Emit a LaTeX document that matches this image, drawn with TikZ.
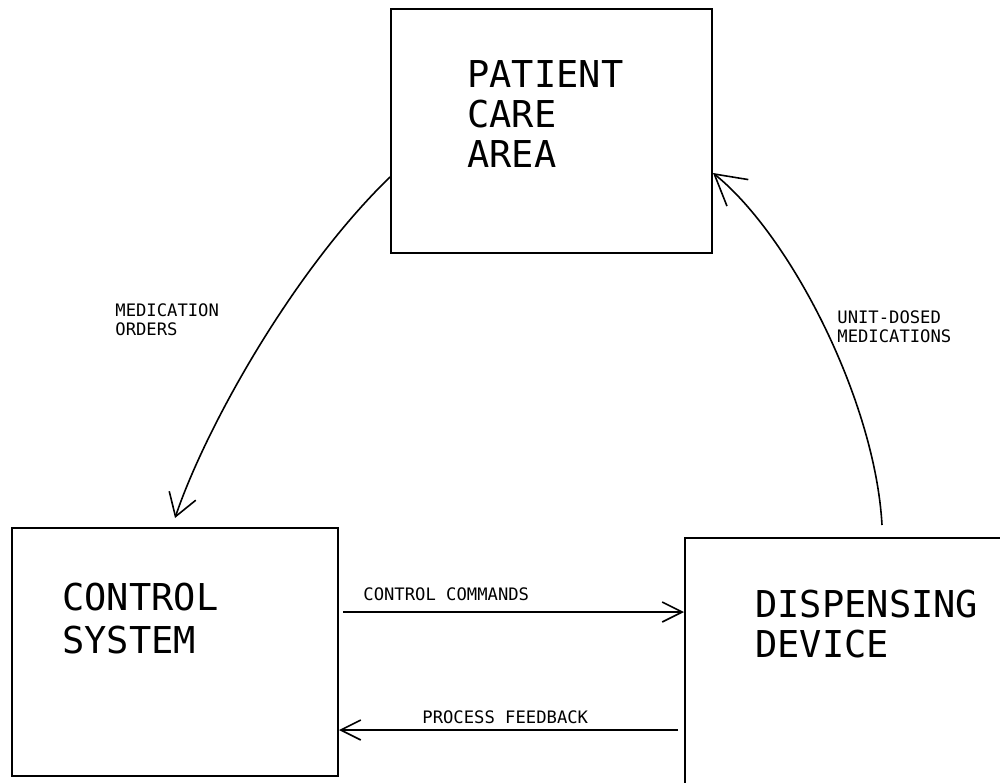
\documentclass[tikz,border=0pt]{standalone}
\usepackage{fontspec}
\newfontfamily\plotfont{DejaVu Sans Mono}
\usetikzlibrary{arrows.meta}
\begin{document}
\begin{tikzpicture}[x=0.5pt,y=-0.5pt,
  block/.style={draw,line width=1pt,rectangle,inner sep=0pt},
  bigtext/.style={anchor=north west,inner sep=0pt,align=left,
    font=\plotfont\fontsize{18.5pt}{20pt}\selectfont},
  smalltext/.style={anchor=north west,inner sep=0pt,align=left,
    font=\plotfont\fontsize{8.6pt}{9.8pt}\selectfont},
  flow/.style={line width=0.8pt},
  barb/.style={-{Straight Barb[length=10pt,width=10pt,line width=0.8pt]}}]
\useasboundingbox (0,0) rectangle (1000,782);
\clip (0,0) rectangle (1000,782);

% the three blocks
\node[block,minimum width=160.5pt,minimum height=122pt] (pat) at (551.5,131) {};
\node[block,minimum width=163pt,minimum height=124pt] (ctl) at (175,652) {};
\node[block,minimum width=162.5pt,minimum height=131pt] (disp) at (847.5,669) {};

% block captions
\node[bigtext] (patlbl) at (467,60) {PATIENT\\CARE\\AREA};
\node[bigtext,font=\plotfont\fontsize{18.5pt}{21.5pt}\selectfont] (ctllbl) at (62,583) {CONTROL\\SYSTEM};
\node[bigtext] (displbl) at (755,590) {DISPENSING\\DEVICE};

% flow labels
\node[smalltext] (molbl) at (115,303) {MEDICATION\\ORDERS};
\node[smalltext] (udlbl) at (837,310) {UNIT-DOSED\\MEDICATIONS};
\node[smalltext] (cclbl) at (363,587) {CONTROL COMMANDS};
\node[smalltext] (pflbl) at (422,710) {PROCESS FEEDBACK};

% heights of the straight connectors and ends of the curved ones
\coordinate (ccy) at (0,612);
\coordinate (pfy) at (0,730);
\coordinate (moy) at (0,177);
\coordinate (udy) at (0,173);
\coordinate (udstart) at (882,525);

% horizontal flows between control system and dispensing device
\draw[flow,barb,shorten <=2pt] (ctl.east |- ccy) -- (disp.west |- ccy);
\draw[flow,barb,shorten <=3pt] (disp.west |- pfy) -- (ctl.east |- pfy);

% medication orders: patient care area to control system
\draw[flow,-{Straight Barb[length=11pt,width=14pt,line width=0.8pt]}]
  (pat.west |- moy) .. controls (292,272) and (205,429) .. ([yshift=4.5pt]ctl.north);

% unit-dosed medications: dispensing device to patient care area
\draw[flow,-{Straight Barb[length=15pt,width=17pt,line width=0.8pt]}]
  (udstart) .. controls (875,400) and (790,235) .. (pat.east |- udy);
\end{tikzpicture}
\end{document}
